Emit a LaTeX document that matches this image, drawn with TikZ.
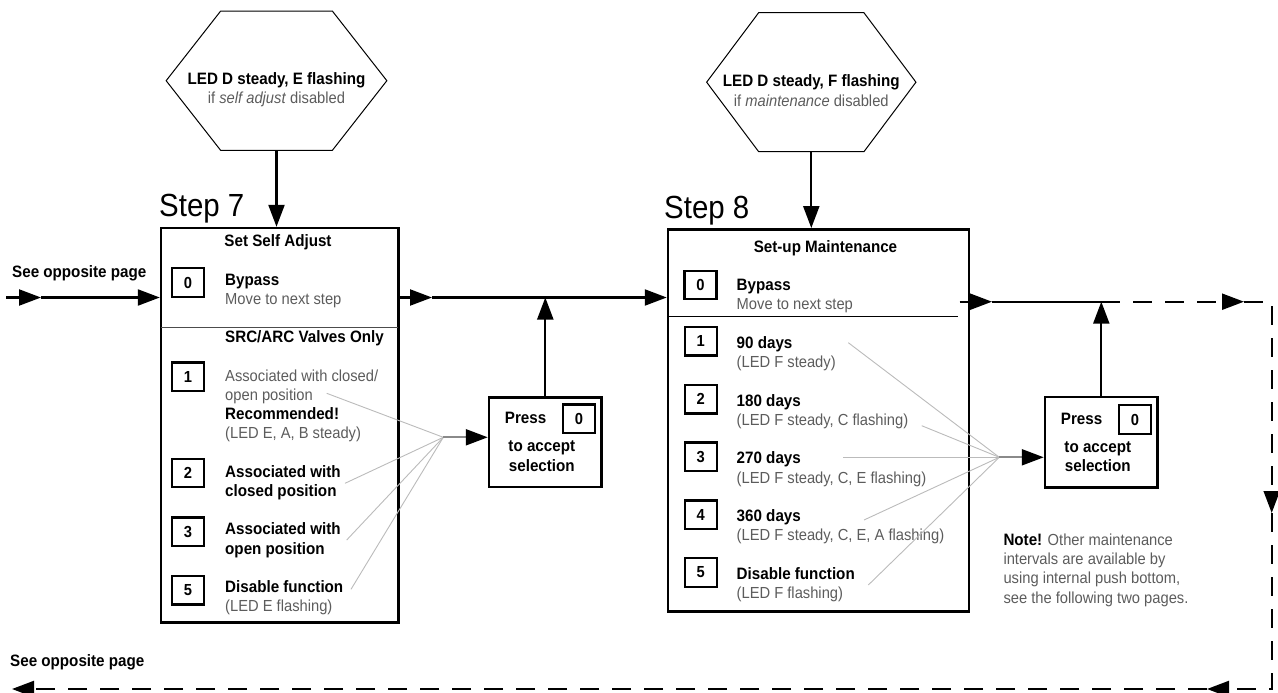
\documentclass[tikz,border=0pt]{standalone}
\usepackage{fontspec}
\setmainfont{Liberation Sans}[FakeStretch=0.92]
\usetikzlibrary{arrows.meta,positioning}

\definecolor{txtgray}{HTML}{5C5C5C}
\definecolor{fangray}{HTML}{BBBBBB}
\definecolor{stubgray}{HTML}{8A8A8A}

\newcommand{\boldtxt}[1]{{\fontsize{16.5}{19.3}\selectfont\bfseries\color{black}#1}}
\newcommand{\greytxt}[1]{{\color{txtgray}#1}}

\tikzset{
  txt/.style={inner sep=0pt, align=left, font=\fontsize{16}{19.3}\selectfont},
  head/.style={inner sep=0pt, align=center, font=\fontsize{16.5}{19.3}\selectfont\bfseries},
  flow/.style={line width=2.2pt, ->},
  link/.style={line width=2.2pt},
  back/.style={line width=2.2pt, dash pattern=on 19pt off 13pt},
  stepbox/.style={draw, line width=2.5pt, inner sep=0pt},
  numbox/.style={draw, line width=2.4pt, minimum width=32pt, minimum height=28.5pt,
    inner sep=0pt, font=\fontsize{16}{19}\selectfont\bfseries},
  hexnode/.style={inner sep=0pt, outer sep=0pt, font=\fontsize{16.5}{19.3}\selectfont\bfseries},
  hexline/.style={line width=1pt},
  fan/.style={draw=fangray, line width=0.9pt},
  stub/.style={draw=stubgray, line width=2.2pt},
  steplabel/.style={inner sep=0pt, font=\fontsize{32}{36}\selectfont},
  divider/.style={line width=1.4pt}
}

\begin{document}
\begin{tikzpicture}[x=1pt, y=-1pt, >={Triangle[length=22pt,width=16pt]}]
\useasboundingbox (0,0) rectangle (1278,693);

% step 7
\node[hexnode, minimum width=220.7pt, minimum height=139.3pt] (hexA) at (276.5,80.7) {LED D steady, E flashing};
\node[txt, text=txtgray] (hexAsub) at ([yshift=-19pt]hexA.center) {if \textit{self adjust} disabled};
\draw[hexline] (hexA.west) -- ([xshift=54.5pt]hexA.north west) -- ([xshift=-54.5pt]hexA.north east)
  -- (hexA.east) -- ([xshift=-54.5pt]hexA.south east) -- ([xshift=54.5pt]hexA.south west) -- cycle;

\node[steplabel, anchor=base west] (step7) at (159,216) {Step 7};
\node[stepbox, minimum width=237.3pt, minimum height=394.3pt] (s7box) at (279.7,425.2) {};
\node[head] (s7title) at (278,242.7) {Set Self Adjust};

\node[numbox] (s7n0) at (188,282.5) {0};
\node[txt, anchor=west] (s7t0) at (225,291.3) {\boldtxt{Bypass}\\\greytxt{Move to next step}};
\draw[divider, draw=black!70] (161,327.7) -- (398.3,327.7);
\node[head, anchor=west] (s7only) at (225,338) {SRC/ARC Valves Only};

\node[numbox] (s7n1) at (188,376.7) {1};
\node[txt, anchor=west] (s7t1) at (225,405.9) {\greytxt{Associated with closed/}\\\greytxt{open position}\\\boldtxt{Recommended!}\\\greytxt{(LED E, A, B steady)}};
\node[numbox] (s7n2) at (188,473) {2};
\node[txt, anchor=west] (s7t2) at (225,483) {\boldtxt{Associated with}\\\boldtxt{closed position}};
\node[numbox] (s7n3) at (188,531.7) {3};
\node[txt, anchor=west] (s7t3) at (225,540.3) {\boldtxt{Associated with}\\\boldtxt{open position}};
\node[numbox] (s7n5) at (188,590.3) {5};
\node[txt, anchor=west] (s7t5) at (225,597.8) {\boldtxt{Disable function}\\\greytxt{(LED E flashing)}};

\node[stepbox, line width=2.4pt, minimum width=112.7pt, minimum height=89.4pt] (p1) at (545.3,442) {};
\node[head, anchor=west] (p1press) at ([xshift=17pt,yshift=-22pt]p1.north west) {Press};
\node[numbox] (p1n0) at ([xshift=-24pt,yshift=-22.5pt]p1.north east) {0};
\node[head] (p1acc) at ([xshift=-3.5pt,yshift=-14.2pt]p1.center) {to accept\\selection};

% step 8
\node[hexnode, minimum width=209.3pt, minimum height=139pt] (hexB) at (811.3,82.2) {LED D steady, F flashing};
\node[txt, text=txtgray] (hexBsub) at ([yshift=-19pt]hexB.center) {if \textit{maintenance} disabled};
\draw[hexline] (hexB.west) -- ([xshift=52pt]hexB.north west) -- ([xshift=-52pt]hexB.north east)
  -- (hexB.east) -- ([xshift=-52pt]hexB.south east) -- ([xshift=52pt]hexB.south west) -- cycle;

\node[steplabel, anchor=base west] (step8) at (664,218) {Step 8};
\node[stepbox, minimum width=301pt, minimum height=382.4pt] (s8box) at (818.5,420.5) {};
\node[head] (s8title) at (825.5,248.3) {Set-up Maintenance};

\node[numbox] (s8n0) at (700.5,285) {0};
\node[txt, anchor=west] (s8t0) at (736.5,296) {\boldtxt{Bypass}\\\greytxt{Move to next step}};
\draw[divider, line width=1pt] (668,316) -- (957.7,316);

\foreach \n/\dlabel/\dled [count=\k from 0] in {1/90 days/(LED F steady),
    2/180 days/{(LED F steady, C flashing)}, 3/270 days/{(LED F steady, C, E flashing)},
    4/360 days/{(LED F steady, C, E, A flashing)}, 5/Disable function/(LED F flashing)} {
  \node[numbox] (s8n\n) at (700.8,341.3+57.8*\k) {\n};
  \node[txt, anchor=west] (s8t\n) at (736.5,354+57.6*\k) {\boldtxt{\dlabel}\\\greytxt{\dled}};
}

\node[stepbox, line width=2.4pt, minimum width=112.7pt, minimum height=90.6pt] (p2) at (1101.3,442) {};
\node[head, anchor=west] (p2press) at ([xshift=17pt,yshift=-23.5pt]p2.north west) {Press};
\node[numbox] (p2n0) at ([xshift=-24pt,yshift=-24pt]p2.north east) {0};
\node[head] (p2acc) at ([xshift=-3.5pt,yshift=-15pt]p2.center) {to accept\\selection};

\node[txt, anchor=west] (note) at (1003.3,570) {\boldtxt{Note!} \greytxt{Other maintenance}\\\greytxt{intervals are available by}\\\greytxt{using internal push bottom,}\\\greytxt{see the following two pages.}};

\node[head, anchor=west] (seeTop) at (12,273) {See opposite page};
\node[head, anchor=west] (seeBot) at (10,662) {See opposite page};

% connectors
\draw[flow] (hexA.south) -- (hexA.south |- s7box.north);
\draw[flow] (hexB.south) -- (hexB.south |- s8box.north);

\coordinate (inL) at (6,297.5);
\coordinate (inM) at (41,297.5);
\coordinate (s7M) at (432,297.5);
\draw[flow] (inL) -- (inM);
\draw[flow] (inM) -- (inM -| s7box.west);
\draw[flow] (inM -| s7box.east) -- (s7M);
\draw[flow] (s7M) -- (s7M -| s8box.west);
\draw[flow] (p1.north) -- (p1.north |- s7M);

\coordinate (f7) at (443.3,437.3);
\coordinate (f7s) at (465.7,437.3);
\foreach \p in {(326.7,393.3),(345,483.3),(346.7,540),(351,589.3)}
  \draw[fan] \p -- (f7);
\draw[stub] (f7) -- (f7s);
\draw[flow] (f7s) -- (f7s -| p1.west);

\coordinate (f8) at (999.3,457.3);
\coordinate (f8s) at (1022.7,457.3);
\foreach \p in {(848.3,342.7),(921.7,425.7),(843.3,457.3),(864,520),(868.3,585)}
  \draw[fan] \p -- (f8);
\draw[stub] (f8) -- (f8s);
\draw[flow] (f8s) -- (f8s -| p2.west);

\coordinate (s8out) at (959.5,301.7);
\coordinate (s8M) at (992,301.7);
\coordinate (rtM) at (1244,301.7);
\coordinate (rtC) at (1271.7,301.7);
\coordinate (rtD) at (1271.7,513);
\coordinate (btC) at (1271.7,689);
\coordinate (btM) at (1207,689);
\coordinate (btL) at (12,689);
\draw[flow] (s8out) -- (s8M);
\draw[link] (s8M) -- (s8M -| p2.north);
\draw[flow] (p2.north) -- (p2.north |- s8M);
\draw[back, ->] (s8M -| p2.north) -- (rtM);
\draw[back, ->] (rtM) -- (rtC) -- (rtD);
\draw[back, ->] (rtD) -- (btC) -- (btM);
\draw[back, ->] (btM) -- (btL);
\end{tikzpicture}
\end{document}
